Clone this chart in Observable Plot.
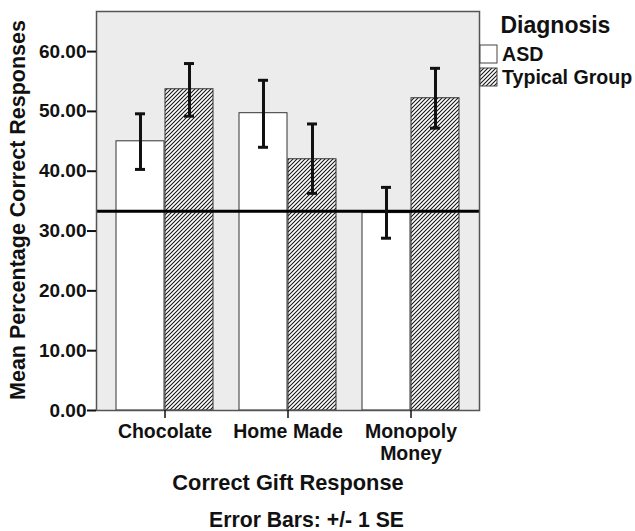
<!DOCTYPE html>
<html>
<head>
<meta charset="utf-8">
<script src="https://cdn.jsdelivr.net/npm/d3@7"></script>
<script src="https://cdn.jsdelivr.net/npm/@observablehq/plot@0.6"></script>
<style>
  body { margin: 0; background: white; }
</style>
</head>
<body>
<div id="chart"></div>
<script>
// ---- data ----
const categories = ["Chocolate", "Home Made", "Monopoly Money"];
const groups = ["ASD", "Typical Group"];
const asdMean = [45.0, 49.7, 33.0];
const asdLow  = [40.3, 44.0, 28.8];
const asdHigh = [49.6, 55.2, 37.3];
const tgMean  = [53.7, 42.0, 52.2];
const tgLow   = [49.2, 36.3, 47.2];
const tgHigh  = [58.0, 47.9, 57.2];
const chanceLevel = 33.3;
const yTicks = [0, 10, 20, 30, 40, 50, 60];
const yTitle = "Mean Percentage Correct Responses";
const xTitle = "Correct Gift Response";
const caption = "Error Bars: +/- 1 SE";
const legendTitle = "Diagnosis";

const asd = categories.map((c, i) => ({cat: c, group: groups[0], mean: asdMean[i], low: asdLow[i], high: asdHigh[i]}));
const tg  = categories.map((c, i) => ({cat: c, group: groups[1], mean: tgMean[i], low: tgLow[i], high: tgHigh[i]}));

const font = "'Liberation Sans', Arial, sans-serif";

const errMarks = (data, dx, inL, inR) => [
  Plot.ruleX(data, {x: "cat", y1: "low", y2: "high", dx, stroke: "#111", strokeWidth: 3}),
  Plot.tickY(data, {x: "cat", y: "low", insetLeft: inL, insetRight: inR, stroke: "#111", strokeWidth: 3}),
  Plot.tickY(data, {x: "cat", y: "high", insetLeft: inL, insetRight: inR, stroke: "#111", strokeWidth: 3})
];

const chart = Plot.plot({
  width: 635,
  height: 531,
  marginLeft: 96,
  marginRight: 156,
  marginTop: 11,
  marginBottom: 121,
  style: {fontFamily: font, fontWeight: "bold", fontSize: "19px", color: "#111", background: "white"},
  x: {type: "band", domain: categories, paddingInner: 0, paddingOuter: 0.0444, axis: null},
  y: {domain: [0, 66.7], axis: null},
  marks: [
    Plot.frame({fill: "#ececec", stroke: null}),
    Plot.barY(asd, {x: "cat", y: "mean", fill: "white", stroke: "#333", strokeWidth: 1, insetLeft: 13, insetRight: 62}),
    Plot.barY(tg, {x: "cat", y: "mean", fill: "url(#hatch)", stroke: "#333", strokeWidth: 1, insetLeft: 62, insetRight: 13}),
    Plot.ruleY([chanceLevel], {stroke: "#000", strokeWidth: 3}),
    ...errMarks(asd, -24.5, 32, 81),
    ...errMarks(tg, 24.5, 81, 32),
    Plot.frame({stroke: "#555", strokeWidth: 1.5}),
    Plot.axisY({ticks: yTicks, tickFormat: d => d.toFixed(2), tickSize: 9, tickPadding: 1, strokeWidth: 2, label: null, fontSize: 19}),
    Plot.axisX({tickSize: 8, tickPadding: 5, strokeWidth: 1.5, label: null, fontSize: 19.5, lineHeight: 1.08,
      tickFormat: d => d === "Monopoly Money" ? "Monopoly\nMoney" : d}),
    Plot.text([yTitle], {frameAnchor: "left", dx: -78, dy: -1, rotate: -90, textAnchor: "middle", fontSize: 21.5, lineAnchor: "middle"}),
    Plot.text([xTitle], {frameAnchor: "bottom", dy: 73, fontSize: 21.8, lineAnchor: "middle"}),
    Plot.text([caption], {frameAnchor: "bottom", dx: 18.5, dy: 110, fontSize: 21.2, lineAnchor: "middle"}),
    Plot.text([legendTitle], {frameAnchor: "top-right", dx: 21, dy: 14, textAnchor: "start", fontSize: 23, lineAnchor: "middle"})
  ]
});

const svg = d3.select(chart);
const defs = svg.insert("defs", ":first-child");
const pat = defs.append("pattern")
  .attr("id", "hatch")
  .attr("patternUnits", "userSpaceOnUse")
  .attr("width", 4).attr("height", 4);
pat.append("rect").attr("width", 4).attr("height", 4).attr("fill", "white");
pat.append("path")
  .attr("d", "M-1,1 l2,-2 M0,4 l4,-4 M3,5 l2,-2")
  .attr("stroke", "#111").attr("stroke-width", 1.05);

// legend swatches and labels
const leg = svg.append("g").attr("font-family", font).attr("font-weight", "bold").attr("font-size", 19.6)
  .attr("fill", "#111").attr("text-anchor", "start");
const legItems = [{label: groups[0], fill: "white", y: 45}, {label: groups[1], fill: "url(#hatch)", y: 68}];
legItems.forEach(d => {
  leg.append("rect").attr("x", 480).attr("y", d.y).attr("width", 17).attr("height", 18)
    .attr("fill", d.fill).attr("stroke", "#444").attr("stroke-width", 1);
  leg.append("text").attr("x", 502).attr("y", d.y + 9).attr("dy", "0.35em").text(d.label);
});

document.getElementById("chart").appendChild(chart);
</script>
</body>
</html>
